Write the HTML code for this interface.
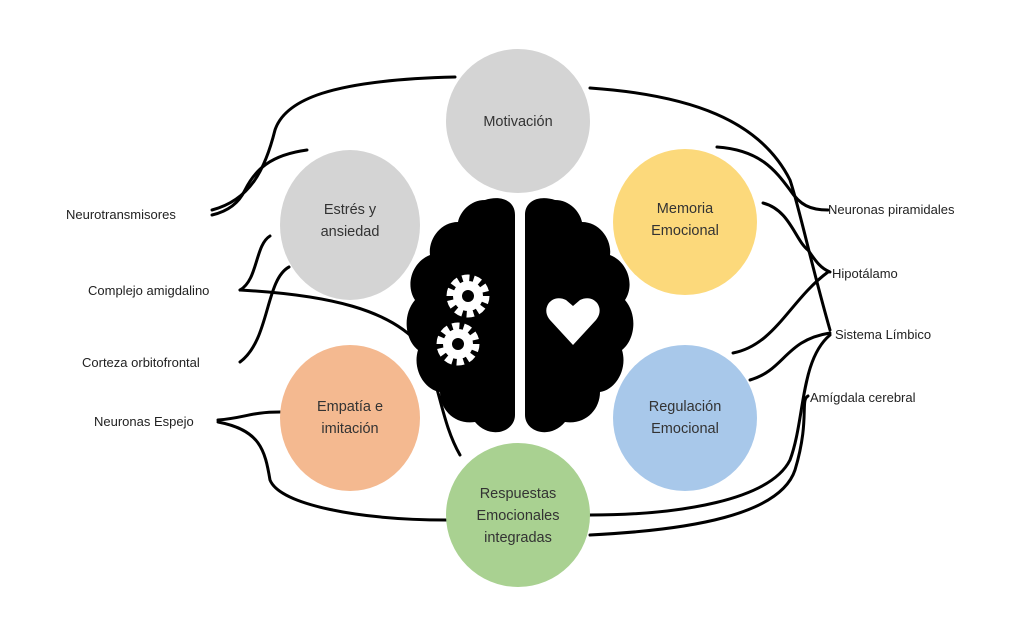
<!DOCTYPE html>
<html><head><meta charset="utf-8"><style>
body{margin:0;background:#fff}
svg{display:block}
text{font-family:"Liberation Sans",sans-serif}
</style></head><body>
<svg width="1024" height="628" viewBox="0 0 1024 628">
<g fill="none" stroke="#000" stroke-width="3" stroke-linecap="round">
<path d="M455,77 C330,80 285,100 275,130 C265,170 250,200 212,210"/>
<path d="M307,150 C270,155 255,170 245,190 C238,205 225,212 212,215"/>
<path d="M270,236 C255,245 258,280 240,290"/>
<path d="M240,290 C330,295 390,310 420,345 C440,380 440,420 460,455"/>
<path d="M289,267 C265,280 270,340 240,362"/>
<path d="M280,412 C250,412 245,418 218,420"/>
<path d="M218,422 C260,430 265,450 270,480 C280,505 360,520 447,520"/>
<path d="M590,88 C690,95 760,120 790,180 C800,210 810,260 830,330"/>
<path d="M717,147 C760,150 775,170 790,190 C800,205 810,210 828,210"/>
<path d="M763,203 C790,210 795,240 808,250 C815,260 820,268 830,272"/>
<path d="M733,353 C775,345 790,300 828,272"/>
<path d="M750,380 C785,370 785,340 830,333"/>
<path d="M590,515 C680,515 770,500 790,460 C805,420 800,360 830,335"/>
<path d="M590,535 C690,530 780,515 795,470 C810,420 800,400 808,396"/>
</g>
<ellipse cx="518" cy="121" rx="72" ry="72" fill="#d4d4d4"/>
<ellipse cx="350" cy="225" rx="70" ry="75" fill="#d4d4d4"/>
<ellipse cx="685" cy="222" rx="72" ry="73" fill="#fcd97b"/>
<ellipse cx="350" cy="418" rx="70" ry="73" fill="#f4b990"/>
<ellipse cx="685" cy="418" rx="72" ry="73" fill="#a8c8ea"/>
<ellipse cx="518" cy="515" rx="72" ry="72" fill="#a9d191"/>
<g fill="#000">
<path d="M515,215 C515,200 500,195 485,200 C470,200 460,212 458,222 C440,222 428,240 430,255 C412,262 405,285 415,300 C402,315 405,340 418,350 C412,370 425,390 440,392 C440,410 455,425 475,422 C490,440 515,432 515,415 Z"/>
<path d="M525,215 C525,200 540,195 555,200 C570,200 580,212 582,222 C600,222 612,240 610,255 C628,262 635,285 625,300 C638,315 635,340 622,350 C628,370 615,390 600,392 C600,410 585,425 565,422 C550,440 525,432 525,415 Z"/>
</g>
<g fill="#fff">
<circle cx="468" cy="296" r="15"/>
<circle cx="458" cy="344" r="15"/>
<path d="M573,345 L550,320 C540,308 552,293 566,300 L573,306 L580,300 C594,293 606,308 596,320 Z"/>
</g>
<g fill="none" stroke="#fff" stroke-width="7" stroke-dasharray="7 4.3">
<circle cx="468" cy="296" r="18"/>
<circle cx="458" cy="344" r="18"/>
</g>
<g fill="#000"><circle cx="468" cy="296" r="6"/><circle cx="458" cy="344" r="6"/></g>
<g font-size="14.5" fill="#333" text-anchor="middle">
<text x="518" y="126">Motivación</text>
<text x="350" y="214">Estrés y</text><text x="350" y="236">ansiedad</text>
<text x="685" y="213">Memoria</text><text x="685" y="235">Emocional</text>
<text x="350" y="411">Empatía e</text><text x="350" y="433">imitación</text>
<text x="685" y="411">Regulación</text><text x="685" y="433">Emocional</text>
<text x="518" y="498">Respuestas</text><text x="518" y="520">Emocionales</text><text x="518" y="542">integradas</text>
</g>
<g font-size="13" fill="#222">
<text x="66" y="219">Neurotransmisores</text>
<text x="88" y="295">Complejo amigdalino</text>
<text x="82" y="367">Corteza orbitofrontal</text>
<text x="94" y="426">Neuronas Espejo</text>
<text x="828" y="214">Neuronas piramidales</text>
<text x="832" y="278">Hipotálamo</text>
<text x="835" y="339">Sistema Límbico</text>
<text x="810" y="402">Amígdala cerebral</text>
</g>
</svg>
</body></html>
